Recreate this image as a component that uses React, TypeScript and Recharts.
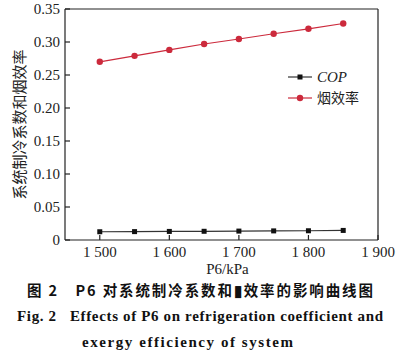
import React from 'react';
import { LineChart, Line, XAxis, YAxis, ReferenceLine } from 'recharts';

const pressure = [1500, 1550, 1600, 1650, 1700, 1750, 1800, 1850];
const copValues = [0.0125, 0.0127, 0.013, 0.0132, 0.0135, 0.0138, 0.014, 0.0145];
const exergyValues = [0.27, 0.279, 0.288, 0.297, 0.3045, 0.3125, 0.32, 0.328];
const xTicks = [1500, 1600, 1700, 1800, 1900];
const yTicks = [0, 0.05, 0.1, 0.15, 0.2, 0.25, 0.3, 0.35];
const seriesNames = ['COP', '烟效率'];
const xLabel = 'P6/kPa';
const yLabel = '系统制冷系数和烟效率';
const captionCn = '图 2　P6 对系统制冷系数和▮效率的影响曲线图';
const captionEn1 = 'Fig. 2\u00a0\u00a0\u00a0Effects of P6 on refrigeration coefficient and';
const captionEn2 = 'exergy efficiency of system';

const data = pressure.map((p, i) => ({ p, cop: copValues[i], ex: exergyValues[i] }));

const SERIF = '"Liberation Serif", "DejaVu Serif", serif';
const CJK = '"Noto Sans CJK SC", sans-serif';
const AX = '#222';
const RED = '#cc2a3c';

const XTick = (props: any) => {
  const { x, y, payload } = props;
  const v = String(payload.value);
  const label = v.length === 4 ? v[0] + ' ' + v.slice(1) : v;
  return (
    <g>
      <line x1={x} x2={x} y1={y - 6} y2={y - 11} stroke={AX} strokeWidth={1.2} />
      <text x={x} y={y + 11} textAnchor="middle" fontFamily={SERIF} fontSize={15} fill="#222">{label}</text>
    </g>
  );
};

const YTick = (props: any) => {
  const { x, y, payload } = props;
  const v = payload.value === 0 ? '0' : Number(payload.value).toFixed(2);
  return (
    <g>
      <line x1={x + 5} x2={x + 10} y1={y} y2={y} stroke={AX} strokeWidth={1.2} />
      <text x={x} y={y + 5} textAnchor="end" fontFamily={SERIF} fontSize={15} fill="#222">{v}</text>
    </g>
  );
};

const LegendBox = () => (
  <svg width={110} height={44} style={{ position: 'absolute', left: 285, top: 67 }}>
    <line x1={3} x2={27} y1={10} y2={10} stroke="#333" strokeWidth={1.2} />
    <rect x={12.5} y={7.5} width={5} height={5} fill="#111" />
    <text x={32} y={15} fontFamily={SERIF} fontStyle="italic" fontSize={15} fill="#222">{seriesNames[0]}</text>
    <line x1={3} x2={27} y1={31} y2={31} stroke={RED} strokeWidth={1.2} />
    <circle cx={15} cy={31} r={3.2} fill={RED} />
    <text x={32} y={36} fontFamily={CJK} fontSize={14} fill="#222">{seriesNames[1]}</text>
  </svg>
);

export default function App() {
  return (
    <div style={{ position: 'absolute', left: 0, top: 0, width: 400, height: 353, background: '#fff', overflow: 'hidden' }}>
      <LineChart width={400} height={280} data={data} margin={{ top: 9, right: 22, left: 0, bottom: 0 }}>
        <XAxis
          dataKey="p"
          type="number"
          domain={[1450, 1900]}
          ticks={xTicks}
          tickLine={false}
          tickSize={0}
          tickMargin={6}
          tick={<XTick />}
          axisLine={{ stroke: AX, strokeWidth: 1.2 }}
          height={40}
          interval={0}
          label={{
            content: (p: any) => {
              const vb = p.viewBox || { x: 65, y: 240, width: 313, height: 40 };
              return (
                <text x={vb.x + vb.width / 2 + 6} y={vb.y + 34} textAnchor="middle" fontFamily={SERIF} fontSize={15} fill="#222">{xLabel}</text>
              );
            },
          }}
        />
        <YAxis
          type="number"
          domain={[0, 0.35]}
          ticks={yTicks}
          tickLine={false}
          tickSize={0}
          tickMargin={5}
          tick={<YTick />}
          axisLine={{ stroke: AX, strokeWidth: 1.2 }}
          width={65}
          interval={0}
          label={{
            content: (p: any) => {
              const vb = p.viewBox || { x: 0, y: 9, width: 65, height: 231 };
              const cx = vb.x + 18;
              const cy = vb.y + vb.height / 2;
              return (
                <text x={cx} y={cy} transform={`rotate(-90 ${cx} ${cy})`} textAnchor="middle" dominantBaseline="central" fontFamily={CJK} fontSize={15} fill="#222">{yLabel}</text>
              );
            },
          }}
        />
        <ReferenceLine y={0.35} stroke={AX} strokeWidth={1.2} />
        <ReferenceLine x={1900} stroke={AX} strokeWidth={1.2} />
        <Line
          dataKey="cop"
          name={seriesNames[0]}
          stroke="#333"
          strokeWidth={1.2}
          isAnimationActive={false}
          dot={(p: any) => <rect key={`c${p.index}`} x={p.cx - 2.5} y={p.cy - 2.5} width={5} height={5} fill="#111" />}
        />
        <Line
          dataKey="ex"
          name={seriesNames[1]}
          stroke={RED}
          strokeWidth={1.2}
          isAnimationActive={false}
          dot={{ r: 3.2, fill: RED, stroke: RED, strokeWidth: 0 }}
        />
      </LineChart>
      <LegendBox />
      <svg width={400} height={73} style={{ position: 'absolute', left: 0, top: 280 }}>
        <text x={27} y={16} textLength={346} lengthAdjust="spacing" fontFamily={CJK} fontWeight="bold" fontSize={14.5} fill="#111">{captionCn}</text>
        <text x={17} y={41} textLength={366} lengthAdjust="spacing" fontFamily={SERIF} fontWeight="bold" fontSize={15} fill="#111">{captionEn1}</text>
        <text x={82} y={67} textLength={211} lengthAdjust="spacing" fontFamily={SERIF} fontWeight="bold" fontSize={15} fill="#111">{captionEn2}</text>
      </svg>
    </div>
  );
}
